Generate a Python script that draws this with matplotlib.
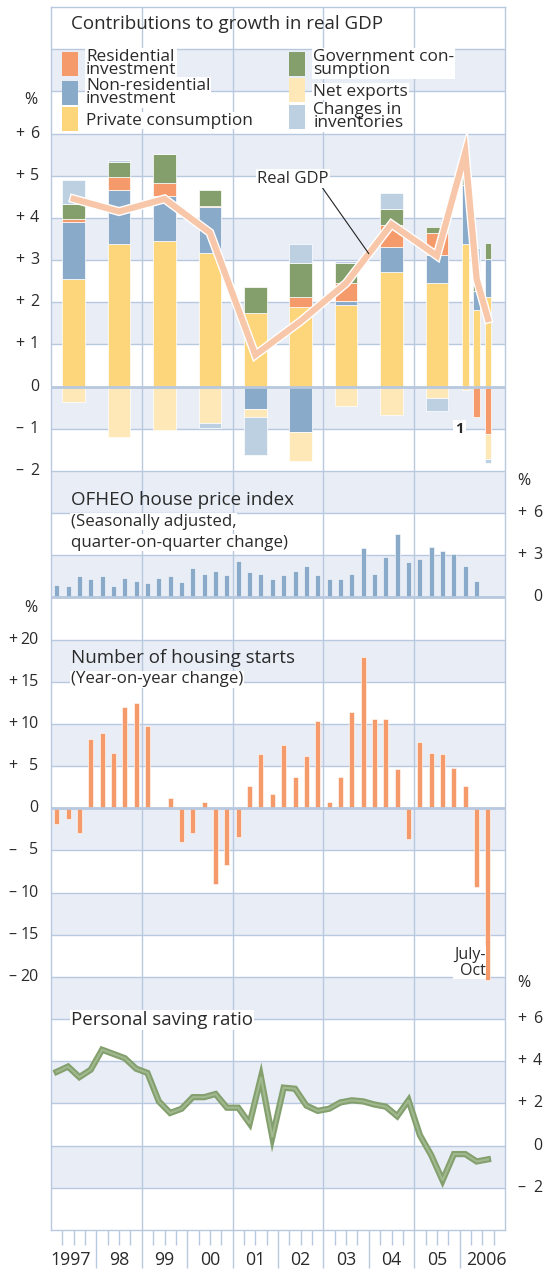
import matplotlib
matplotlib.use("Agg")
import matplotlib.pyplot as plt
import matplotlib.transforms as mtransforms
from matplotlib.patches import Patch
import numpy as np

plt.rcParams['font.family'] = ['Open Sans', 'DejaVu Sans']

# ---- data ----
year_labels = ['1997', '98', '99', '00', '01', '02', '03', '04', '05', '2006']

# contributions to real GDP growth: annual 1997-2005, then 2006 Q1-Q3
gdp_years = list(range(1997, 2006))
gdp_quarters_2006 = [1, 2, 3]
private_cons = [2.55, 3.37, 3.46, 3.17, 1.75, 1.89, 1.94, 2.71, 2.45, 3.39, 1.81, 2.12]
nonres_inv = [1.36, 1.30, 1.07, 1.08, -0.53, -1.07, 0.09, 0.59, 0.67, 1.40, 0.46, 0.91]
res_inv = [0.07, 0.30, 0.30, 0.03, 0.0, 0.23, 0.43, 0.54, 0.51, 0.0, -0.73, -1.13]
gov_cons = [0.34, 0.36, 0.69, 0.38, 0.61, 0.82, 0.48, 0.36, 0.16, 0.91, 0.14, 0.38]
net_exports = [-0.36, -1.20, -1.04, -0.86, -0.20, -0.70, -0.45, -0.68, -0.26, -0.08, 0.0, -0.58]
inventories = [0.57, 0.05, 0.0, -0.12, -0.90, 0.44, 0.04, 0.39, -0.32, 0.0, 0.88, -0.11]
real_gdp = [4.45, 4.15, 4.45, 3.65, 0.75, 1.55, 2.45, 3.85, 3.1, 5.55, 2.55, 1.6]

# OFHEO house price index, q-o-q %, 1997Q1-2006Q2
house_prices = [0.9, 0.8, 1.5, 1.3, 1.5, 0.8, 1.4, 1.2, 1.0, 1.4, 1.5, 1.1,
                2.1, 1.7, 1.9, 1.6, 2.6, 1.8, 1.7, 1.3, 1.6, 1.9, 2.2, 1.6,
                1.3, 1.3, 1.7, 3.5, 1.7, 2.9, 4.5, 2.5, 2.7, 3.6, 3.3, 3.1,
                2.2, 1.2]

# housing starts, y-o-y %, 1997Q1-2006Q3 (last = July-Oct)
housing_starts = [-1.9, -1.3, -2.9, 8.2, 8.9, 6.5, 12.0, 12.5, 9.8, 0.1,
                  1.2, -4.0, -2.9, 0.8, -9.0, -6.7, -3.4, 2.7, 6.4, 1.7,
                  7.5, 3.7, 6.2, 10.3, 0.8, 3.7, 11.4, 17.9, 10.6, 10.6,
                  4.6, -3.6, 7.8, 6.5, 6.4, 4.8, 2.6, -9.3, -20.4]

# personal saving ratio, %, 1997Q1-2006Q3
saving_ratio = [3.5, 3.75, 3.25, 3.6, 4.55, 4.35, 4.15, 3.65, 3.45, 2.1,
                1.55, 1.75, 2.3, 2.3, 2.45, 1.8, 1.8, 1.05, 3.25, 0.4,
                2.75, 2.7, 1.9, 1.65, 1.75, 2.05, 2.15, 2.1, 1.95, 1.85,
                1.4, 2.15, 0.5, -0.45, -1.65, -0.4, -0.4, -0.75, -0.65]

# ---- colours ----
c_pc = '#fdd57b'
c_res = '#f59b6b'
c_nr = '#8aaaca'
c_gov = '#849f6b'
c_nx = '#fee8b7'
c_inv = '#bdd0e2'
c_grid = '#b8c8df'
c_shade = '#e9eef6'
c_text = '#2a2a2a'

# time axis in decimal years
t_gdp = np.array([y + 0.5 for y in gdp_years] + [2006 + (q - 0.5) / 4 for q in gdp_quarters_2006])
w_gdp = np.array([0.5] * len(gdp_years) + [0.15] * len(gdp_quarters_2006))
t_hpi = 1997 + (np.arange(len(house_prices)) + 0.5) / 4
t_hs = 1997 + (np.arange(len(housing_starts)) + 0.5) / 4
t_sav = 1997 + (np.arange(len(saving_ratio)) + 0.5) / 4

# ---- layout: one frame, 29 grid bands ----
W, H = 544, 1270
fx0, fx1, fy0, fy1 = 51, 505, 7, 1230
nbands = 29
rect = [fx0 / W, 1 - fy1 / H, (fx1 - fx0) / W, (fy1 - fy0) / H]

fig = plt.figure(figsize=(W / 100, H / 100), dpi=100)

bg = fig.add_axes(rect, zorder=0)
bg.set_xlim(1997, 2007)
bg.set_ylim(nbands, 0)
for k in range(1, nbands, 2):
    bg.axhspan(k, k + 1, color=c_shade, lw=0)
for k in range(1, nbands):
    bg.axhline(k, color=c_grid, lw=1)
for yr in [1999, 2001, 2003, 2005]:
    bg.axvline(yr, color=c_grid, lw=1)
for s in bg.spines.values():
    s.set_color(c_grid)
    s.set_linewidth(1)
bg.set_yticks([])
bg.set_xticks(np.arange(1998, 2007))
bg.set_xticks([x for x in np.arange(1997.25, 2007, 0.25) if x % 1 != 0], minor=True)
bg.tick_params(axis='x', which='major', length=27, color=c_grid, width=1, labelbottom=False)
bg.tick_params(axis='x', which='minor', length=11, color=c_grid, width=1)

TITLE = 13.5
SUB = 12.2


def panel(ylim, z):
    ax = fig.add_axes(rect, zorder=z)
    ax.set_xlim(1997, 2007)
    ax.set_ylim(*ylim)
    ax.axis('off')
    return ax


def axfrac(px):
    return (px - fx0) / (fx1 - fx0)


def value_labels(ax, vals, pos):
    tr = mtransforms.blended_transform_factory(ax.transAxes, ax.transData)
    sign_x, digit_x = pos
    for v in vals:
        if v != 0:
            ax.text(axfrac(sign_x), v, '+' if v > 0 else '\u2013', transform=tr,
                    ha='left', va='center', fontsize=11.5, color=c_text, clip_on=False)
        ax.text(axfrac(digit_x), v, str(abs(v)), transform=tr,
                ha='right', va='center', fontsize=11.5, color=c_text, clip_on=False)


def pct(ax, px, y):
    tr = mtransforms.blended_transform_factory(ax.transAxes, ax.transData)
    ax.text(axfrac(px), y, '%', transform=tr, ha='center', va='center',
            fontsize=11.5, color=c_text, clip_on=False)


white_box = dict(facecolor='white', edgecolor='none', pad=0.5)

# ---- panel 1: contributions to growth in real GDP ----
ax1 = panel((-20, 9), 1)
pos_base = np.zeros(len(t_gdp))
neg_base = np.zeros(len(t_gdp))
for vals, col in [(private_cons, c_pc), (nonres_inv, c_nr), (res_inv, c_res),
                  (gov_cons, c_gov), (net_exports, c_nx), (inventories, c_inv)]:
    v = np.array(vals)
    base = np.where(v >= 0, pos_base, neg_base)
    ax1.bar(t_gdp, v, width=w_gdp, bottom=base, color=col, edgecolor='white', linewidth=0.5)
    pos_base = pos_base + np.where(v > 0, v, 0)
    neg_base = neg_base + np.where(v < 0, v, 0)
ax1.axhline(0, color=c_grid, lw=2)
ax1.plot(t_gdp, real_gdp, color='white', lw=6.5, solid_joinstyle='miter', zorder=5)
ax1.plot(t_gdp, real_gdp, color='#f8c7aa', lw=4.5, solid_joinstyle='miter', zorder=6)

ax1.text(1997.44, 8.6, 'Contributions to growth in real GDP', fontsize=TITLE,
         color=c_text, ha='left', va='center')
ax1.annotate('Real GDP', xy=(2004.0, 3.15), xytext=(2002.33, 4.93), ha='center', va='center',
             fontsize=12, color=c_text, zorder=7,
             bbox=dict(facecolor='white', edgecolor='none', pad=1),
             arrowprops=dict(arrowstyle='-', color='#222222', lw=0.8,
                             relpos=(0.9, 0.0), shrinkA=0, shrinkB=0))
ax1.text(2006.0, -1.0, '1', fontsize=10.5, fontweight='bold', color=c_text, ha='center',
         va='center', zorder=7, bbox=dict(facecolor='white', edgecolor='none', pad=1.5))

handles = [Patch(facecolor=c_res, label='Residential\ninvestment'),
           Patch(facecolor=c_nr, label='Non-residential\ninvestment'),
           Patch(facecolor=c_pc, label='Private consumption'),
           Patch(facecolor=c_gov, label='Government con-\nsumption'),
           Patch(facecolor=c_nx, label='Net exports'),
           Patch(facecolor=c_inv, label='Changes in\ninventories')]
leg = ax1.legend(handles=handles, ncol=2, loc='upper left', bbox_to_anchor=(1997.24, 8.0),
                 bbox_transform=ax1.transData, frameon=False, borderpad=0, borderaxespad=0,
                 handlelength=0.95, handleheight=1.78, handletextpad=0.45, labelspacing=0,
                 columnspacing=2.1, fontsize=12.4)
for t in leg.get_texts():
    t.set_linespacing(0.75)
    t.set_color(c_text)
    t.set_bbox(white_box)
for p in leg.get_patches():
    p.set_linewidth(0)

value_labels(ax1, [6, 5, 4, 3, 2, 1, 0, -1, -2], (15, 39))
pct(ax1, 31, 6.8)

# ---- panel 2: OFHEO house price index ----
ax2 = panel((-45, 42), 2)
ax2.bar(t_hpi, house_prices, width=0.11, color=c_nr, edgecolor='white', linewidth=0.4)
ax2.axhline(0, color=c_grid, lw=2)
ax2.text(1997.44, 6.9, 'OFHEO house price index', fontsize=TITLE, color=c_text,
         ha='left', va='center')
ax2.text(1997.44, 5.4, '(Seasonally adjusted,', fontsize=SUB, color=c_text,
         ha='left', va='center', bbox=white_box)
ax2.text(1997.44, 3.9, 'quarter-on-quarter change)', fontsize=SUB, color=c_text,
         ha='left', va='center', bbox=white_box)
value_labels(ax2, [6, 3, 0], (517, 542))
pct(ax2, 524, 8.3)

# ---- panel 3: number of housing starts ----
ax3 = panel((-50, 95), 3)
ax3.bar(t_hs, housing_starts, width=0.11, color=c_res, edgecolor='white', linewidth=0.4)
ax3.axhline(0, color=c_grid, lw=2)
ax3.text(1997.44, 17.8, 'Number of housing starts', fontsize=TITLE, color=c_text,
         ha='left', va='center')
ax3.text(1997.44, 15.3, '(Year-on-year change)', fontsize=SUB, color=c_text,
         ha='left', va='center', bbox=white_box)
ax3.text(2006.57, -18.3, 'July-\nOct', fontsize=11.5, color=c_text, ha='right', va='center',
         linespacing=1.0, bbox=white_box)
value_labels(ax3, [20, 15, 10, 5, 0, -5, -10, -15, -20], (8, 38.5))
pct(ax3, 31, 23.8)

# ---- panel 4: personal saving ratio ----
ax4 = panel((-4, 54), 4)
ax4.plot(t_sav, saving_ratio, color='#83a06e', lw=4.5, solid_joinstyle='miter')
ax4.plot(t_sav, saving_ratio, color='#a2b98f', lw=1.5, solid_joinstyle='miter')
ax4.text(1997.44, 5.96, 'Personal saving ratio', fontsize=TITLE, color=c_text,
         ha='left', va='center', bbox=dict(facecolor='white', edgecolor='none', pad=1))
value_labels(ax4, [6, 4, 2, 0, -2], (517, 542))
pct(ax4, 524, 7.7)

label_x = 1997.5 + np.arange(len(year_labels))
label_x[0] -= 0.07
label_x[-1] += 0.1
for x, lab in zip(label_x, year_labels):
    ax4.text(x, -5.66, lab, fontsize=12.8, color=c_text, ha='center', va='baseline',
             clip_on=False)

fig.savefig('out.png', dpi=100)
